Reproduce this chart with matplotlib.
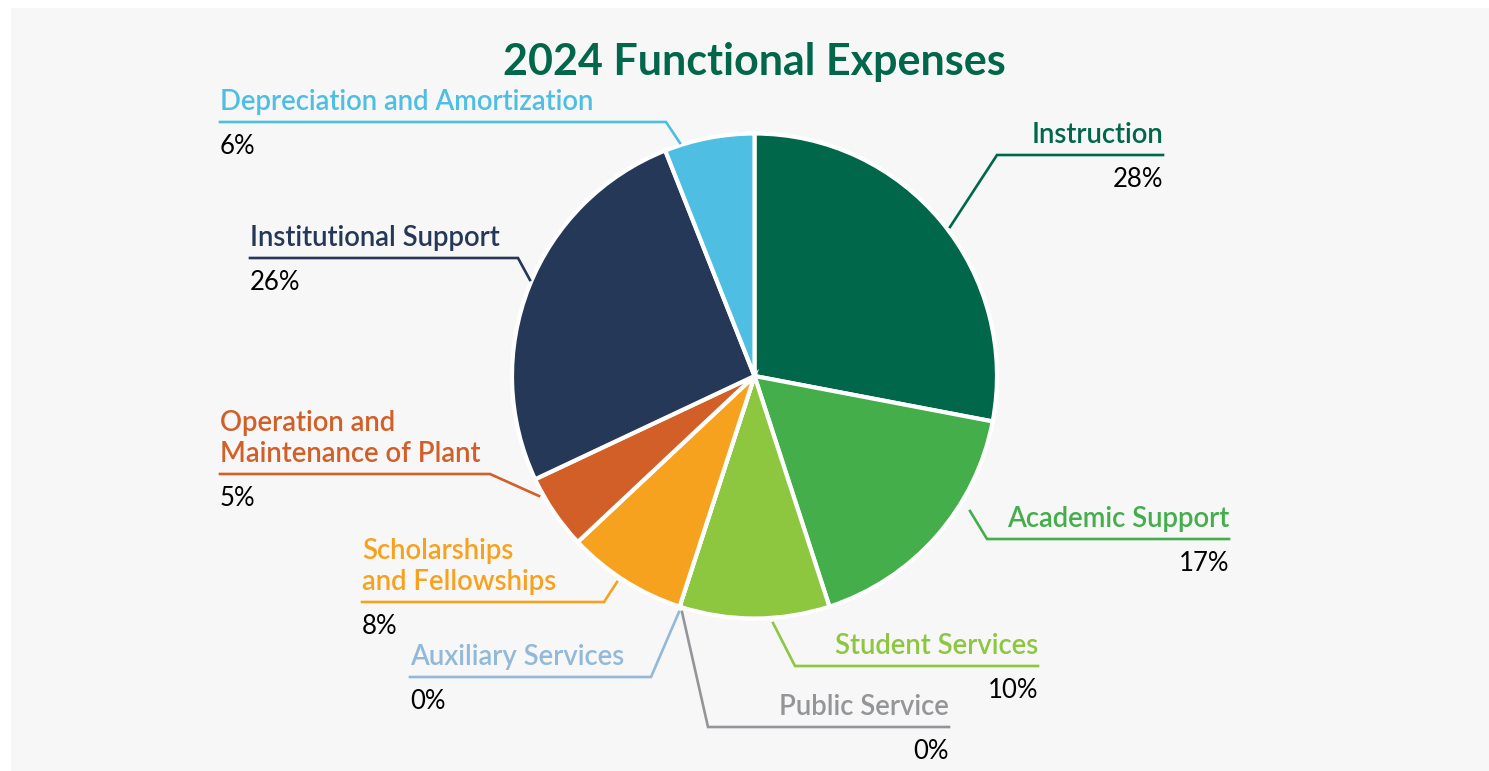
import matplotlib
matplotlib.use("Agg")
import matplotlib.pyplot as plt
from matplotlib.patches import Rectangle

# ---------------- data ----------------
categories = ["Instruction", "Academic Support", "Student Services", "Public Service",
              "Auxiliary Services", "Scholarships and Fellowships",
              "Operation and Maintenance of Plant", "Institutional Support",
              "Depreciation and Amortization"]
values = [28, 17, 10, 0, 0, 8, 5, 26, 6]
pct_labels = ["28%", "17%", "10%", "0%", "0%", "8%", "5%", "26%", "6%"]
label_lines = [["Instruction"], ["Academic Support"], ["Student Services"], ["Public Service"],
               ["Auxiliary Services"], ["Scholarships", "and Fellowships"],
               ["Operation and", "Maintenance of Plant"], ["Institutional Support"],
               ["Depreciation and Amortization"]]
colors = ["#00674A", "#43AE4A", "#8DC63F", "#939598", "#92B9D9",
          "#F7A21E", "#D15F27", "#253858", "#4FBEE3"]
title = "2024 Functional Expenses"

# ---------------- layout (pixel coords, y down) ----------------
W, H = 1489, 771
CX, CY, R = 754.5, 376, 242.5
# per label: side, horizontal line (x0, x1, y), diagonal end point
layout = [
    ("right", (997, 1163, 155), (950, 227)),
    ("right", (987, 1229, 539), (970, 511)),
    ("right", (795, 1038, 666), (773, 623)),
    ("right", (708, 949, 727), (682, 612)),
    ("left", (410, 651, 677), (679, 612)),
    ("left", (362, 604, 602), (617, 582)),
    ("left", (220, 490, 474), (539, 496)),
    ("left", (250, 518, 258), (530, 280)),
    ("left", (220, 666, 122), (680, 143)),
]

def Y(py):
    return H - py

FONT = "Lato"
fig = plt.figure(figsize=(W / 100, H / 100), dpi=100)
fig.patch.set_facecolor("white")
ax = fig.add_axes([0, 0, 1, 1])
ax.axis("off")

ax.add_patch(Rectangle((11, 0), W - 11, H - 8, facecolor="#F7F7F7", edgecolor="none", zorder=0))

ax.pie(values, colors=colors, startangle=90, counterclock=False,
       center=(CX, Y(CY)), radius=R,
       wedgeprops=dict(edgecolor="white", linewidth=3, joinstyle="miter"),
       normalize=True)

ax.set_xlim(0, W)
ax.set_ylim(0, H)
ax.set_aspect("equal")

ax.text(CX, Y(75), title, ha="center", va="baseline", fontsize=31,
        fontweight="bold", color="#00674A", family=FONT)

for lines, pct, col, (side, (x0, x1, ly), (dx, dy)) in zip(label_lines, pct_labels, colors, layout):
    if side == "right":
        ax.plot([dx, x0, x1], [Y(dy), Y(ly), Y(ly)], color=col, lw=1.9,
                solid_joinstyle="miter", zorder=3)
        tx, ha = x1, "right"
    else:
        ax.plot([x0, x1, dx], [Y(ly), Y(ly), Y(dy)], color=col, lw=1.9,
                solid_joinstyle="miter", zorder=3)
        tx, ha = x0, "left"
    n = len(lines)
    for i, s in enumerate(lines):
        by = ly - 12 - (n - 1 - i) * 31
        ax.text(tx, Y(by), s, ha=ha, va="baseline", fontsize=19.8,
                fontweight="semibold", color=col, family=FONT)
    ax.text(tx, Y(ly + 32), pct, ha=ha, va="baseline", fontsize=18.5,
            color="black", family=FONT)

fig.savefig("out.png", dpi=100, facecolor="white")
